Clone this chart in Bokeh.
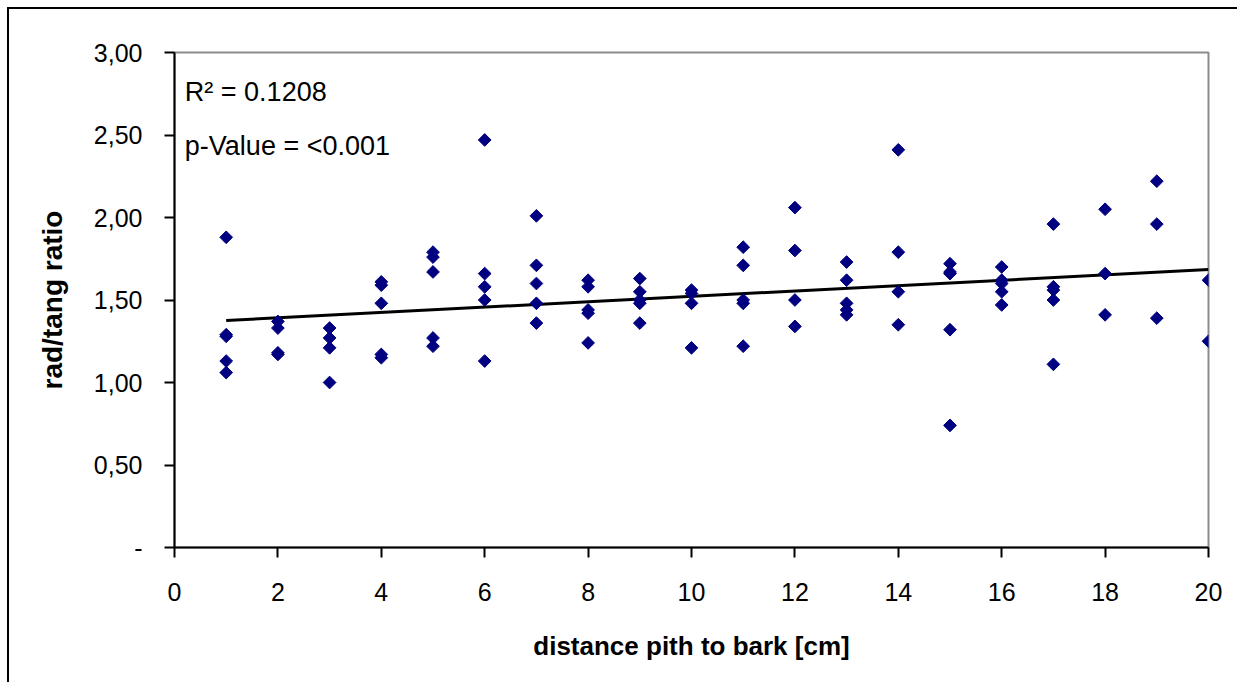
import numpy as np
from bokeh.plotting import figure
from bokeh.models import Label, FixedTicker, Range1d, CustomJSTickFormatter
from bokeh.embed import file_html
from bokeh.resources import INLINE

# ---- data ----
distance = [1, 1, 1, 1, 1,
            2, 2, 2, 2,
            3, 3, 3, 3,
            4, 4, 4, 4, 4,
            5, 5, 5, 5, 5,
            6, 6, 6, 6, 6,
            7, 7, 7, 7, 7,
            8, 8, 8, 8, 8,
            9, 9, 9, 9, 9,
            10, 10, 10, 10,
            11, 11, 11, 11, 11,
            12, 12, 12, 12,
            13, 13, 13, 13, 13,
            14, 14, 14, 14,
            15, 15, 15, 15, 15,
            16, 16, 16, 16, 16,
            17, 17, 17, 17, 17,
            18, 18, 18,
            19, 19, 19,
            20, 20]
ratio = [1.88, 1.29, 1.28, 1.13, 1.06,
         1.37, 1.33, 1.18, 1.17,
         1.33, 1.27, 1.21, 1.00,
         1.61, 1.59, 1.48, 1.17, 1.15,
         1.79, 1.76, 1.67, 1.27, 1.22,
         2.47, 1.66, 1.58, 1.50, 1.13,
         2.01, 1.71, 1.60, 1.48, 1.36,
         1.62, 1.58, 1.44, 1.42, 1.24,
         1.63, 1.55, 1.50, 1.48, 1.36,
         1.56, 1.54, 1.48, 1.21,
         1.82, 1.71, 1.50, 1.48, 1.22,
         2.06, 1.80, 1.50, 1.34,
         1.73, 1.62, 1.48, 1.44, 1.41,
         2.41, 1.79, 1.55, 1.35,
         1.72, 1.67, 1.66, 1.32, 0.74,
         1.70, 1.62, 1.60, 1.55, 1.47,
         1.96, 1.58, 1.56, 1.50, 1.11,
         2.05, 1.66, 1.41,
         2.22, 1.96, 1.39,
         1.62, 1.25]

x_ticks = [0, 2, 4, 6, 8, 10, 12, 14, 16, 18, 20]
x_tick_labels = ["0", "2", "4", "6", "8", "10", "12", "14", "16", "18", "20"]
y_ticks = [0, 0.5, 1.0, 1.5, 2.0, 2.5, 3.0]
y_tick_labels = ["-", "0,50", "1,00", "1,50", "2,00", "2,50", "3,00"]

r2_text = "R² = 0.1208"
p_text = "p-Value = <0.001"
x_title = "distance pith to bark [cm]"
y_title = "rad/tang ratio"

FONT = "Liberation Sans"

p = figure(width=1230, height=675, output_backend="svg", toolbar_location=None,
           x_range=Range1d(0, 20), y_range=Range1d(0, 3),
           min_border_left=165, min_border_right=31, min_border_top=43, min_border_bottom=137,
           styles={"margin-left": "7px", "margin-top": "7px",
                   "border-top": "2px solid black", "border-left": "2px solid black"})

p.xgrid.visible = False
p.ygrid.visible = False
p.background_fill_color = "white"
p.border_fill_color = "white"
p.outline_line_color = "#8c8c8c"
p.outline_line_width = 2

# linear trend line (least squares fit of the data)
coef = np.polyfit(distance, ratio, 1)
lx = [min(distance), max(distance)]
ly = [coef[0] * v + coef[1] for v in lx]
p.line(lx, ly, line_color="black", line_width=3)

p.scatter(distance, ratio, marker="square", size=9, angle=np.pi / 4,
          fill_color="#000080", line_color="#000080")

for ax in (p.xaxis[0], p.yaxis[0]):
    ax.axis_line_color = "black"
    ax.axis_line_width = 2
    ax.major_tick_line_color = "black"
    ax.major_tick_line_width = 2
    ax.major_tick_in = 0
    ax.major_tick_out = 10
    ax.minor_tick_line_color = None
    ax.major_label_text_font = FONT
    ax.major_label_text_font_size = "25px"
    ax.major_label_text_color = "black"
    ax.axis_label_text_font = FONT
    ax.axis_label_text_font_style = "bold"
    ax.axis_label_text_color = "black"

lab_js = """
const i = tvals.findIndex(t => Math.abs(t - tick) < 1e-9);
return i >= 0 ? tlabels[i] : "";
"""
p.xaxis.ticker = FixedTicker(ticks=x_ticks)
p.xaxis.formatter = CustomJSTickFormatter(args=dict(tvals=x_ticks, tlabels=x_tick_labels), code=lab_js)
p.yaxis.ticker = FixedTicker(ticks=y_ticks)
p.yaxis.formatter = CustomJSTickFormatter(args=dict(tvals=y_ticks, tlabels=y_tick_labels), code=lab_js)

p.xaxis.axis_label = x_title
p.yaxis.axis_label = y_title
p.xaxis.axis_label_text_font_size = "26px"
p.yaxis.axis_label_text_font_size = "28px"
p.xaxis.major_label_standoff = 25
p.yaxis.major_label_standoff = 22
p.xaxis.axis_label_standoff = 27
p.yaxis.axis_label_standoff = 23

p.add_layout(Label(x=0.2, y=2.76, text=r2_text, text_font=FONT, text_font_size="27px",
                   text_color="black", text_baseline="alphabetic"))
p.add_layout(Label(x=0.2, y=2.435, text=p_text, text_font=FONT, text_font_size="27px",
                   text_color="black", text_baseline="alphabetic"))

open("out.html", "w").write(file_html(p, INLINE))
